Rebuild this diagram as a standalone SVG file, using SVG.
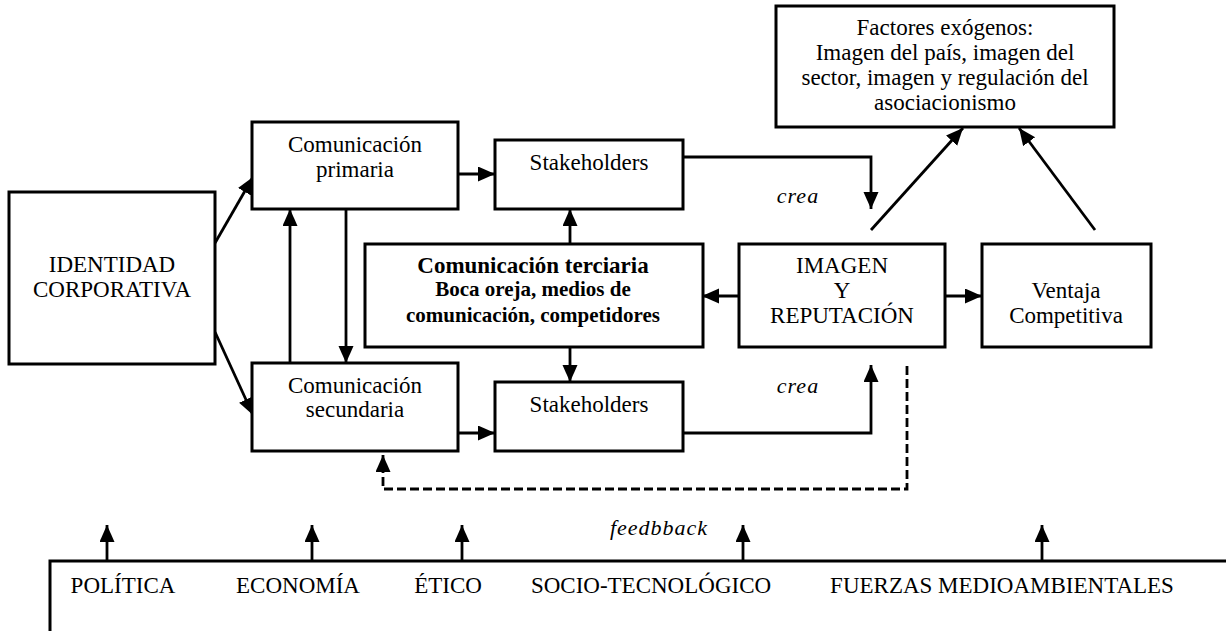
<svg xmlns="http://www.w3.org/2000/svg" width="1226" height="631" viewBox="0 0 1226 631">
  <style>
    .box { fill: #ffffff; stroke: #000000; stroke-width: 3; }
    text { font-family: 'Liberation Serif', 'DejaVu Serif', 'Times New Roman', serif; fill: #000000; text-anchor: middle; }
    .t { font-size: 23px; }
    .tb { font-weight: bold; }
    .ti { font-style: italic; font-size: 22px; letter-spacing: 1px; }
    .ln { fill: none; stroke: #000000; stroke-width: 2.8; }
    .dash { fill: none; stroke: #000000; stroke-width: 2.8; stroke-dasharray: 9 4; }
  </style>
  <defs>
    <marker id="arrow" markerUnits="userSpaceOnUse" markerWidth="20" markerHeight="18" refX="17" refY="7.5" orient="auto">
      <path d="M0,0 L17,7.5 L0,15 Z" fill="#000000"/>
    </marker>
  </defs>
  <rect width="1226" height="631" fill="#ffffff"/>

  <!-- connectors -->
  <g id="connectors">
    <line class="ln" x1="215" y1="243" x2="253" y2="177" marker-end="url(#arrow)"/>
    <line class="ln" x1="215" y1="332" x2="253" y2="415" marker-end="url(#arrow)"/>
    <line class="ln" x1="458" y1="174" x2="495" y2="174" marker-end="url(#arrow)"/>
    <line class="ln" x1="458" y1="433" x2="495" y2="433" marker-end="url(#arrow)"/>
    <line class="ln" x1="290" y1="363" x2="290" y2="209" marker-end="url(#arrow)"/>
    <line class="ln" x1="346" y1="209" x2="346" y2="363" marker-end="url(#arrow)"/>
    <line class="ln" x1="570" y1="244" x2="570" y2="209" marker-end="url(#arrow)"/>
    <line class="ln" x1="570" y1="347" x2="570" y2="382" marker-end="url(#arrow)"/>
    <line class="ln" x1="739" y1="296" x2="702" y2="296" marker-end="url(#arrow)"/>
    <line class="ln" x1="945" y1="296" x2="982" y2="296" marker-end="url(#arrow)"/>
    <polyline class="ln" points="683,157 871,157 871,209" marker-end="url(#arrow)"/>
    <polyline class="ln" points="683,433 871,433 871,365" marker-end="url(#arrow)"/>
    <line class="ln" x1="871" y1="230" x2="963" y2="128" marker-end="url(#arrow)"/>
    <line class="ln" x1="1095" y1="230" x2="1019" y2="128" marker-end="url(#arrow)"/>
    <polyline class="dash" points="907,366 907,489 383,489 383,455" marker-end="url(#arrow)"/>
    <line class="ln" x1="107" y1="561" x2="107" y2="525" marker-end="url(#arrow)"/>
    <line class="ln" x1="312" y1="561" x2="312" y2="525" marker-end="url(#arrow)"/>
    <line class="ln" x1="462" y1="561" x2="462" y2="525" marker-end="url(#arrow)"/>
    <line class="ln" x1="743" y1="561" x2="743" y2="525" marker-end="url(#arrow)"/>
    <line class="ln" x1="1042" y1="561" x2="1042" y2="525" marker-end="url(#arrow)"/>
    <text class="ti" x="798" y="203">crea</text>
    <text class="ti" x="798" y="393">crea</text>
    <text class="ti" x="659" y="535">feedbback</text>
  </g>

  <g id="identidad">
    <rect class="box" x="9" y="192" width="206" height="172"/>
    <text class="t" x="112" y="272">IDENTIDAD</text>
    <text class="t" x="112" y="297">CORPORATIVA</text>
  </g>

  <g id="com-primaria">
    <rect class="box" x="252" y="122" width="206" height="87"/>
    <text class="t" x="355" y="152">Comunicación</text>
    <text class="t" x="355" y="177">primaria</text>
  </g>

  <g id="stakeholders-1">
    <rect class="box" x="495" y="140" width="188" height="69"/>
    <text class="t" x="589" y="170">Stakeholders</text>
  </g>

  <g id="com-terciaria">
    <rect class="box" x="365" y="244" width="338" height="103"/>
    <text class="tb" x="533" y="273" font-size="23">Comunicación terciaria</text>
    <text class="tb" x="533" y="296" font-size="21">Boca oreja, medios de</text>
    <text class="tb" x="533" y="322" font-size="21">comunicación, competidores</text>
  </g>

  <g id="imagen-reputacion">
    <rect class="box" x="739" y="244" width="206" height="103"/>
    <text class="t" x="842" y="273">IMAGEN</text>
    <text class="t" x="842" y="298">Y</text>
    <text class="t" x="842" y="323">REPUTACIÓN</text>
  </g>

  <g id="ventaja">
    <rect class="box" x="982" y="244" width="169" height="103"/>
    <text class="t" x="1066" y="298">Ventaja</text>
    <text class="t" x="1066" y="323">Competitiva</text>
  </g>

  <g id="factores">
    <rect class="box" x="776" y="6" width="338" height="121"/>
    <text class="t" x="945" y="35">Factores exógenos:</text>
    <text class="t" x="945" y="60">Imagen del país, imagen del</text>
    <text class="t" x="945" y="85">sector, imagen y regulación del</text>
    <text class="t" x="945" y="110">asociacionismo</text>
  </g>

  <g id="com-secundaria">
    <rect class="box" x="252" y="363" width="206" height="88"/>
    <text class="t" x="355" y="393">Comunicación</text>
    <text class="t" x="355" y="417">secundaria</text>
  </g>

  <g id="stakeholders-2">
    <rect class="box" x="495" y="382" width="188" height="69"/>
    <text class="t" x="589" y="412">Stakeholders</text>
  </g>

  <g id="entorno">
    <rect class="box" x="50" y="561" width="1200" height="100"/>
    <text class="t" x="123" y="593">POLÍTICA</text>
    <text class="t" x="298" y="593">ECONOMÍA</text>
    <text class="t" x="448" y="593">ÉTICO</text>
    <text class="t" x="651" y="593">SOCIO-TECNOLÓGICO</text>
    <text class="t" x="1002" y="593">FUERZAS MEDIOAMBIENTALES</text>
  </g>
</svg>
